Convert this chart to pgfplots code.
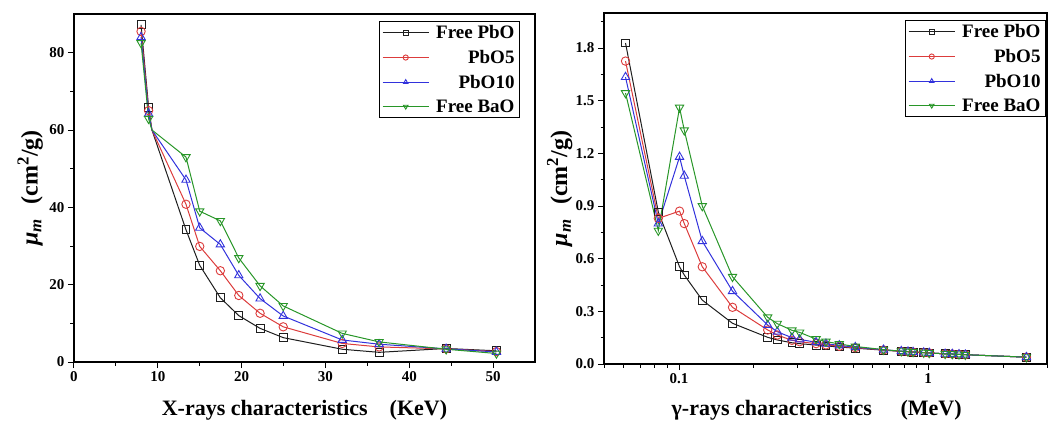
\documentclass[border=0pt]{standalone}
\usepackage{fontspec}
\setmainfont{Liberation Serif}
\usepackage{pgfplots}
\pgfplotsset{compat=1.18}
\definecolor{cblack}{RGB}{30,30,30}
\definecolor{cred}{RGB}{220,60,60}
\definecolor{cblue}{RGB}{50,50,220}
\definecolor{cgreen}{RGB}{40,150,40}
\pgfplotsset{
 mystyle/.style={
  scale only axis,
  axis line style={line width=1.2pt},
  tick style={line width=1pt, black},
  tick align=outside,
  tick pos=left,
  major tick length=6pt, minor tick length=3.5pt,
  ticklabel style={font=\fontsize{15}{15}\selectfont\bfseries},
  /pgf/number format/assume math mode=true,
  xlabel style={font=\fontsize{22}{22}\selectfont\bfseries},
  ylabel style={font=\fontsize{24}{24}\selectfont\bfseries},
  legend style={draw=black, line width=1pt, font=\fontsize{19}{19}\selectfont\bfseries, inner xsep=3pt, inner ysep=2pt, row sep=6pt,
    /tikz/every odd column/.append style={column sep=5pt}},
  legend cell align=right,
  legend image code/.code={\draw[mark=none] (0pt,0pt) -- (46pt,0pt); \draw[mark size=2.6pt] plot coordinates {(23pt,0pt)};},
  every axis plot/.append style={line width=1pt},
 },
 sq/.style={cblack, mark=square, mark size=3.9pt, mark options={solid, fill=white, line width=0.9pt}},
 ci/.style={cred, mark=o, mark size=4.2pt, mark options={solid, fill=white, line width=0.9pt}},
 tu/.style={cblue, mark=triangle, mark size=4.8pt, mark options={solid, fill=white, line width=0.9pt}},
 td/.style={cgreen, mark=triangle, mark size=4.8pt, mark options={solid, fill=white, line width=0.9pt, rotate=180}},
}
\begin{document}
\begin{tikzpicture}[x=1pt,y=1pt]
\path[use as bounding box] (0,0) rectangle (1048,421);
\begin{axis}[mystyle,
  at={(74pt,59pt)}, anchor=south west,
  width=461pt, height=348pt,
  xmin=0, xmax=55, ymin=0, ymax=90,
  xtick={0,10,...,50}, ytick={0,20,...,80},
  minor x tick num=1, minor y tick num=1,
  xlabel={X-rays characteristics\quad(KeV)},
  ylabel={{\itshape μ\textsubscript{m}}\hspace{0.6em}(cm\textsuperscript{2}/g)},
  xlabel style={at={(axis description cs:0.5,-0.138)}, anchor=center},
  ylabel style={at={(axis description cs:-0.095,0.5)}, anchor=center},
  legend style={at={(1,1)}, anchor=north east, xshift=-15pt, yshift=-7pt},
]
\addplot[sq, mark indices={1,2,4,5,6,7,8,9,10,11,12,13}] coordinates {(8.0,87.2)(8.9,65.9)(9.3,60)(13.36,34.2)(15.0,25.0)(17.46,16.6)(19.66,12.0)(22.2,8.7)(24.96,6.3)(32.0,3.3)(36.4,2.5)(44.4,3.5)(50.4,2.9)};
\addlegendentry{Free PbO}
\addplot[ci, mark indices={1,2,4,5,6,7,8,9,10,11,12,13}] coordinates {(8.0,85.5)(8.9,65.0)(9.3,60)(13.36,40.8)(15.0,29.9)(17.46,23.6)(19.66,17.2)(22.2,12.6)(24.96,9.1)(32.0,4.8)(36.4,3.9)(44.4,3.4)(50.4,2.7)};
\addlegendentry{PbO5}
\addplot[tu, mark indices={1,2,4,5,6,7,8,9,10,11,12,13}] coordinates {(8.0,84.0)(8.9,64.2)(9.3,60)(13.36,47.1)(15.0,34.7)(17.46,30.4)(19.66,22.4)(22.2,16.4)(24.96,11.9)(32.0,5.7)(36.4,4.6)(44.4,3.4)(50.4,2.6)};
\addlegendentry{PbO10}
\addplot[td, mark indices={1,2,4,5,6,7,8,9,10,11,12,13}] coordinates {(8.0,82.5)(8.9,62.9)(9.3,60)(13.36,53.0)(15.0,39.0)(17.46,36.5)(19.66,26.9)(22.2,19.7)(24.96,14.5)(32.0,7.4)(36.4,5.2)(44.4,3.3)(50.4,2.2)};
\addlegendentry{Free BaO}
\end{axis}
\begin{axis}[mystyle,
  at={(604pt,57pt)}, anchor=south west,
  width=443pt, height=351pt,
  xmode=log, xmin=0.05, xmax=3, ymin=0, ymax=2.0,
  xtick={0.1,1}, xticklabels={0.1,1},
  minor xtick={0.05,0.06,0.07,0.08,0.09,0.2,0.3,0.4,0.5,0.6,0.7,0.8,0.9,2,3},
  ytick={0,0.3,0.6,0.9,1.2,1.5,1.8},
  minor ytick={0.15,0.45,0.75,1.05,1.35,1.65,1.95},
  yticklabel style={/pgf/number format/.cd, fixed, fixed zerofill, precision=1},
  xlabel={γ-rays characteristics\hspace{1.3em}(MeV)},
  ylabel={{\itshape μ\textsubscript{m}}\hspace{0.6em}(cm\textsuperscript{2}/g)},
  xlabel style={at={(axis description cs:0.48,-0.131)}, anchor=center},
  ylabel style={at={(axis description cs:-0.1,0.5)}, anchor=center},
  legend style={at={(1,1)}, anchor=north east, xshift=-1pt, yshift=-7pt},
]
\addplot[sq] coordinates {(0.061,1.829)(0.0826,0.866)(0.1005,0.554)(0.105,0.507)(0.124,0.364)(0.164,0.232)(0.227,0.152)(0.248,0.137)(0.284,0.121)(0.305,0.116)(0.355,0.108)(0.389,0.103)(0.44,0.097)(0.51,0.090)(0.662,0.079)(0.78,0.072)(0.83,0.070)(0.87,0.068)(0.96,0.065)(1.01,0.063)(1.17,0.058)(1.25,0.057)(1.33,0.055)(1.41,0.053)(2.48,0.039)};
\addlegendentry{Free PbO}
\addplot[ci] coordinates {(0.061,1.726)(0.0826,0.83)(0.1005,0.871)(0.105,0.80)(0.124,0.554)(0.164,0.323)(0.227,0.194)(0.248,0.165)(0.284,0.135)(0.305,0.127)(0.355,0.116)(0.389,0.109)(0.44,0.101)(0.51,0.093)(0.662,0.080)(0.78,0.072)(0.83,0.070)(0.87,0.068)(0.96,0.065)(1.01,0.063)(1.17,0.058)(1.25,0.057)(1.33,0.055)(1.41,0.053)(2.48,0.039)};
\addlegendentry{PbO5}
\addplot[tu] coordinates {(0.061,1.635)(0.0826,0.80)(0.1005,1.18)(0.105,1.072)(0.124,0.70)(0.164,0.415)(0.227,0.222)(0.248,0.184)(0.284,0.150)(0.305,0.140)(0.355,0.124)(0.389,0.115)(0.44,0.106)(0.51,0.096)(0.662,0.081)(0.78,0.073)(0.83,0.070)(0.87,0.068)(0.96,0.065)(1.01,0.063)(1.17,0.058)(1.25,0.057)(1.33,0.055)(1.41,0.053)(2.48,0.039)};
\addlegendentry{PbO10}
\addplot[td] coordinates {(0.061,1.544)(0.0826,0.76)(0.1005,1.461)(0.105,1.332)(0.124,0.90)(0.164,0.497)(0.227,0.266)(0.248,0.230)(0.284,0.192)(0.305,0.180)(0.355,0.142)(0.389,0.128)(0.44,0.114)(0.51,0.100)(0.662,0.082)(0.78,0.073)(0.83,0.071)(0.87,0.069)(0.96,0.065)(1.01,0.063)(1.17,0.058)(1.25,0.057)(1.33,0.055)(1.41,0.053)(2.48,0.039)};
\addlegendentry{Free BaO}
\end{axis}
\end{tikzpicture}
\end{document}
